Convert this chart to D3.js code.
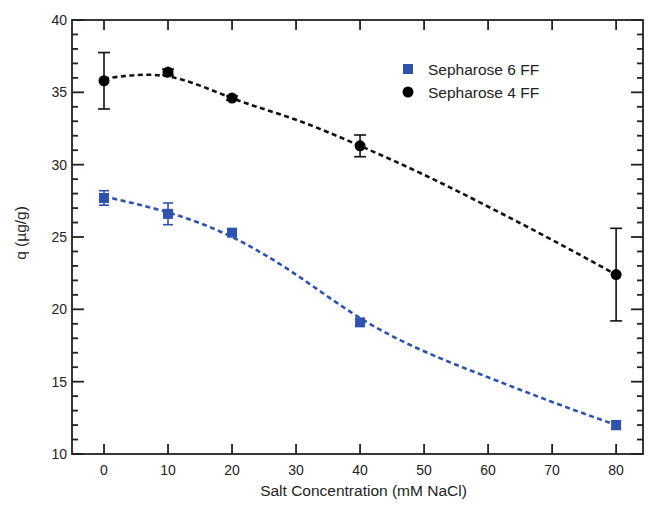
<!DOCTYPE html>
<html>
<head>
<meta charset="utf-8">
<style>
  body { margin: 0; background: #fff; }
  text { font-family: "Liberation Sans", Arial, sans-serif; fill: #222; }
</style>
</head>
<body>
<div id="chart"></div>
<script src="https://cdnjs.cloudflare.com/ajax/libs/d3/7.8.5/d3.min.js"></script>
<script>
  // data
  const salt = [0, 10, 20, 40, 80];
  const q6FF = [27.7, 26.6, 25.3, 19.1, 12.0];
  const err6FF = [0.5, 0.75, 0.2, 0.2, 0.3];
  const q4FF = [35.8, 36.4, 34.6, 31.3, 22.4];
  const err4FF = [1.95, 0.2, 0.15, 0.75, 3.2];

  // dashed fit curves
  const fitX = [0, 10, 20, 30, 40, 50, 60, 70, 80];
  const fit6FF = [27.8, 26.7, 25.0, 22.4, 19.4, 17.1, 15.3, 13.6, 12.0];
  const fit4FF = [35.95, 36.1, 34.6, 33.1, 31.3, 29.3, 27.1, 24.8, 22.4];

  const xTicks = [0, 10, 20, 30, 40, 50, 60, 70, 80];
  const yTicks = [10, 15, 20, 25, 30, 35, 40];
  const yMinor = d3.range(10, 41, 1);

  const width = 649, height = 506;
  const plotLeft = 72, plotRight = 643, plotTop = 20, plotBottom = 454;
  const blue = "#2d52b0";
  const ink = "#222";

  const x = d3.scaleLinear().domain([-5, 84.2]).range([plotLeft, plotRight]);
  const y = d3.scaleLinear().domain([10, 40]).range([plotBottom, plotTop]);

  const svg = d3.create("svg")
    .attr("width", width)
    .attr("height", height)
    .attr("viewBox", [0, 0, width, height]);

  // frame
  svg.append("rect")
    .attr("x", plotLeft).attr("y", plotTop)
    .attr("width", plotRight - plotLeft).attr("height", plotBottom - plotTop)
    .attr("fill", "none").attr("stroke", ink).attr("stroke-width", 1.8);

  // inward ticks on all four sides
  const tickG = svg.append("g").attr("stroke", ink).attr("stroke-width", 1.8);
  xTicks.forEach(v => {
    tickG.append("line").attr("x1", x(v)).attr("x2", x(v)).attr("y1", plotBottom).attr("y2", plotBottom - 10);
    tickG.append("line").attr("x1", x(v)).attr("x2", x(v)).attr("y1", plotTop).attr("y2", plotTop + 10);
  });
  yMinor.forEach(v => {
    const len = v % 5 === 0 ? 12 : 6;
    tickG.append("line").attr("x1", plotLeft).attr("x2", plotLeft + len).attr("y1", y(v)).attr("y2", y(v));
    tickG.append("line").attr("x1", plotRight).attr("x2", plotRight - len).attr("y1", y(v)).attr("y2", y(v));
  });

  // tick labels
  svg.append("g").selectAll("text")
    .data(xTicks)
    .join("text")
    .attr("x", d => x(d)).attr("y", plotBottom + 21)
    .attr("text-anchor", "middle").attr("font-size", 14)
    .text(d => d);
  svg.append("g").selectAll("text")
    .data(yTicks)
    .join("text")
    .attr("x", plotLeft - 5).attr("y", d => y(d) + 5)
    .attr("text-anchor", "end").attr("font-size", 14)
    .text(d => d);

  // axis titles
  svg.append("text")
    .attr("x", (plotLeft + plotRight) / 2 + 6).attr("y", 496)
    .attr("text-anchor", "middle").attr("font-size", 15.5)
    .text("Salt Concentration (mM NaCl)");
  svg.append("text")
    .attr("transform", `translate(26,${(plotTop + plotBottom) / 2 - 4}) rotate(-90)`)
    .attr("text-anchor", "middle").attr("font-size", 15.5)
    .text("q (µg/g)");

  // fit lines
  const line = d3.line().x(d => x(d[0])).y(d => y(d[1])).curve(d3.curveNatural);
  svg.append("path")
    .attr("d", line(fitX.map((v, i) => [v, fit4FF[i]])))
    .attr("fill", "none").attr("stroke", "#111").attr("stroke-width", 2.6)
    .attr("stroke-dasharray", "5,3.5");
  svg.append("path")
    .attr("d", line(fitX.map((v, i) => [v, fit6FF[i]])))
    .attr("fill", "none").attr("stroke", blue).attr("stroke-width", 2.6)
    .attr("stroke-dasharray", "5,3.5");

  // error bars
  function errorBars(vals, errs, color, cap) {
    const g = svg.append("g").attr("stroke", color).attr("stroke-width", 1.6);
    salt.forEach((s, i) => {
      const cx = x(s), lo = y(vals[i] - errs[i]), hi = y(vals[i] + errs[i]);
      g.append("line").attr("x1", cx).attr("x2", cx).attr("y1", lo).attr("y2", hi);
      g.append("line").attr("x1", cx - cap / 2).attr("x2", cx + cap / 2).attr("y1", lo).attr("y2", lo);
      g.append("line").attr("x1", cx - cap / 2).attr("x2", cx + cap / 2).attr("y1", hi).attr("y2", hi);
    });
  }
  errorBars(q4FF, err4FF, "#111", 12);
  errorBars(q6FF, err6FF, blue, 10);

  // markers
  svg.append("g").selectAll("rect")
    .data(salt)
    .join("rect")
    .attr("x", d => x(d) - 5)
    .attr("y", (d, i) => y(q6FF[i]) - 5)
    .attr("width", 10).attr("height", 10)
    .attr("fill", blue);
  svg.append("g").selectAll("circle")
    .data(salt)
    .join("circle")
    .attr("cx", d => x(d))
    .attr("cy", (d, i) => y(q4FF[i]))
    .attr("r", 5.5)
    .attr("fill", "#000");

  // legend
  const legend = svg.append("g").attr("transform", "translate(408,69)");
  legend.append("rect").attr("x", -5).attr("y", -5).attr("width", 10).attr("height", 10).attr("fill", blue);
  legend.append("text").attr("x", 20).attr("y", 5.5).attr("font-size", 15.5).text("Sepharose 6 FF");
  legend.append("circle").attr("cx", 0).attr("cy", 23).attr("r", 5.5).attr("fill", "#000");
  legend.append("text").attr("x", 20).attr("y", 28.5).attr("font-size", 15.5).text("Sepharose 4 FF");

  d3.select("#chart").node().appendChild(svg.node());
</script>
</body>
</html>
